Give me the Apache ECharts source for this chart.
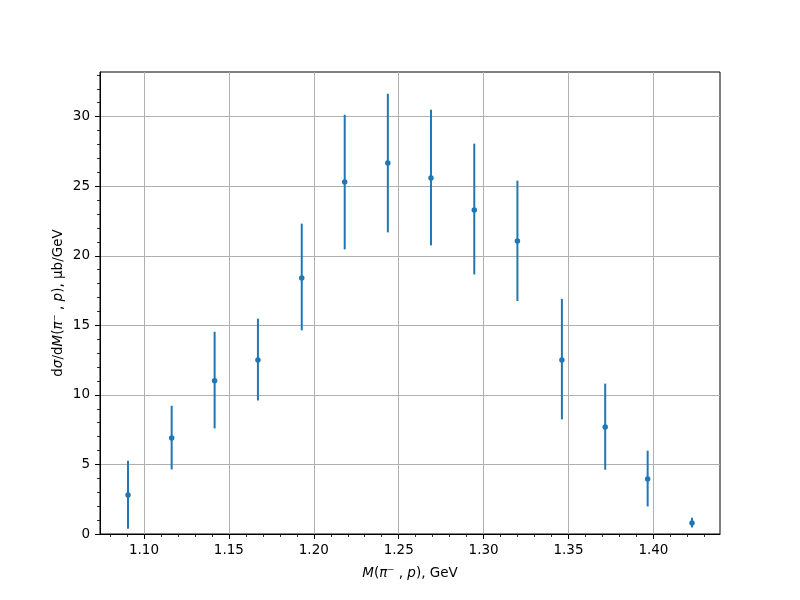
<!DOCTYPE html>
<html>
<head>
<meta charset="utf-8">
<script src="https://cdn.jsdelivr.net/npm/echarts@6/dist/echarts.min.js"></script>
<style>html,body{margin:0;padding:0;background:#fff}#c{width:800px;height:600px}</style>
</head>
<body>
<div id="c"></div>
<script>
// Data
const massValues = [1.0906, 1.1163, 1.1416, 1.1671, 1.1929, 1.2182, 1.2436, 1.2690, 1.2945, 1.3199, 1.3461, 1.3716, 1.3966, 1.4227];
const sigmaValues = [2.80, 6.90, 11.02, 12.51, 18.40, 25.31, 26.67, 25.59, 23.29, 21.06, 12.51, 7.69, 3.95, 0.79];
const errLower = [0.38, 4.64, 7.59, 9.60, 14.64, 20.46, 21.68, 20.75, 18.66, 16.75, 8.24, 4.62, 1.98, 0.47];
const errUpper = [5.27, 9.22, 14.54, 15.48, 22.31, 30.14, 31.65, 30.50, 28.06, 25.40, 16.90, 10.81, 5.99, 1.17];

const xTickLabels = [1.10, 1.15, 1.20, 1.25, 1.30, 1.35, 1.40];
const xMinorTicks = [1.08, 1.09, 1.11, 1.12, 1.13, 1.14, 1.16, 1.17, 1.18, 1.19, 1.21, 1.22, 1.23, 1.24, 1.26, 1.27, 1.28, 1.29, 1.31, 1.32, 1.33, 1.34, 1.36, 1.37, 1.38, 1.39, 1.41, 1.42, 1.43];
const yTickLabels = [0, 5, 10, 15, 20, 25, 30];
const yMinorTicks = [1, 2, 3, 4, 6, 7, 8, 9, 11, 12, 13, 14, 16, 17, 18, 19, 21, 22, 23, 24, 26, 27, 28, 29, 31, 32, 33];

const xMin = 1.0741, xMax = 1.4392, yMin = 0, yMax = 33.21;
const color = '#1f77b4';
const font = 'DejaVu Sans';

const chart = echarts.init(document.getElementById('c'), null, {renderer: 'canvas'});

const barData = massValues.map((m, i) => [m, errLower[i], errUpper[i]]);
const pointData = massValues.map((m, i) => [m, sigmaValues[i]]);

chart.setOption({
  animation: false,
  backgroundColor: '#fff',
  grid: {left: 100, right: 80, top: 72, bottom: 66, show: true, borderColor: '#000', borderWidth: 1, backgroundColor: 'transparent'},
  xAxis: [{
    type: 'value', min: xMin, max: xMax, position: 'bottom',
    axisLine: {show: true, onZero: false, lineStyle: {color: '#000', width: 1}},
    axisTick: {show: true, length: 5, customValues: xTickLabels, lineStyle: {color: '#000'}},
    axisLabel: {customValues: xTickLabels, formatter: v => v.toFixed(2), color: '#000', fontFamily: font, fontSize: 13.5, margin: 9},
    splitLine: {show: true, lineStyle: {color: '#b0b0b0', width: 1}},
    name: '{i|M}{n|(}{i|π}{n|⁻ , }{i|p}{n|), GeV}',
    nameLocation: 'middle', nameGap: 32, nameMoveOverlap: false,
    nameTextStyle: {rich: {
      n: {fontFamily: font, fontSize: 13.5, color: '#000'},
      i: {fontFamily: font, fontSize: 13.5, fontStyle: 'italic', color: '#000'}
    }}
  }, {
    type: 'value', min: xMin, max: xMax, position: 'bottom', offset: 0,
    axisLine: {show: false},
    axisTick: {show: true, length: 3, customValues: xMinorTicks, lineStyle: {color: '#000', width: 0.8}},
    axisLabel: {show: false},
    splitLine: {show: false}
  }],
  yAxis: [{
    type: 'value', min: yMin, max: yMax, position: 'left',
    axisLine: {show: true, onZero: false, lineStyle: {color: '#000', width: 1}},
    axisTick: {show: true, length: 5, customValues: yTickLabels, lineStyle: {color: '#000'}},
    axisLabel: {customValues: yTickLabels, color: '#000', fontFamily: font, fontSize: 13.5, margin: 10},
    splitLine: {show: true, lineStyle: {color: '#b0b0b0', width: 1}},
    name: '{n|d}{i|σ}{n|/d}{i|M}{n|(}{i|π}{n|⁻ , }{i|p}{n|), μb/GeV}',
    nameLocation: 'middle', nameGap: 35, nameRotate: 90, nameMoveOverlap: false,
    nameTextStyle: {rich: {
      n: {fontFamily: font, fontSize: 13.5, color: '#000'},
      i: {fontFamily: font, fontSize: 13.5, fontStyle: 'italic', color: '#000'}
    }}
  }, {
    type: 'value', min: yMin, max: yMax, position: 'left', offset: 0,
    axisLine: {show: false},
    axisTick: {show: true, length: 3, customValues: yMinorTicks, lineStyle: {color: '#000', width: 0.8}},
    axisLabel: {show: false},
    splitLine: {show: false}
  }],
  series: [{
    type: 'custom',
    xAxisIndex: 0, yAxisIndex: 0,
    data: barData,
    encode: {x: 0, y: [1, 2]},
    renderItem: function (params, api) {
      const lo = api.coord([api.value(0), api.value(1)]);
      const hi = api.coord([api.value(0), api.value(2)]);
      return {type: 'line', shape: {x1: lo[0], y1: lo[1], x2: hi[0], y2: hi[1]},
        style: {stroke: color, lineWidth: 2}};
    },
    z: 3
  }, {
    type: 'scatter',
    xAxisIndex: 0, yAxisIndex: 0,
    data: pointData,
    symbol: 'circle', symbolSize: 5.5,
    itemStyle: {color: color, opacity: 1},
    z: 4
  }]
});
</script>
</body>
</html>
